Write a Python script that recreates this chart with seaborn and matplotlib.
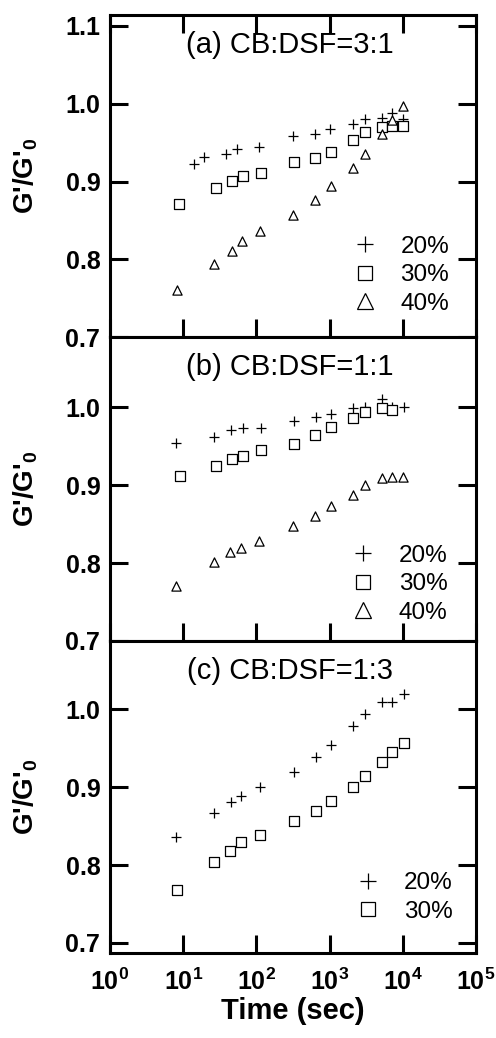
import numpy as np
import pandas as pd
import matplotlib
matplotlib.use("Agg")
import matplotlib.pyplot as plt
from matplotlib.lines import Line2D
from matplotlib.ticker import FixedLocator, FixedFormatter, NullLocator
import seaborn as sns

# ---- data: time (s) and normalised storage modulus G'/G'0 ----
panel_titles = ["(a) CB:DSF=3:1", "(b) CB:DSF=1:1", "(c) CB:DSF=1:3"]
series_labels = ["20%", "30%", "40%"]

t20a = [14, 19, 38, 55, 109, 317, 632, 1026, 2085, 3076, 5140, 7190, 10000]
g20a = [0.922, 0.932, 0.936, 0.942, 0.944, 0.959, 0.961, 0.968, 0.974, 0.981, 0.982, 0.988, 0.981]
t30a = [8.8, 27.9, 46, 65, 115, 324, 640, 1059, 2085, 3076, 5140, 7190, 10000]
g30a = [0.871, 0.892, 0.901, 0.907, 0.911, 0.925, 0.930, 0.938, 0.953, 0.964, 0.970, 0.972, 0.972]
t40a = [8.1, 26.2, 46, 64, 112, 321, 632, 1045, 2085, 3076, 5140, 7190, 10000]
g40a = [0.761, 0.794, 0.811, 0.824, 0.836, 0.857, 0.876, 0.894, 0.917, 0.936, 0.961, 0.979, 0.997]

t20b = [7.9, 26.2, 44.8, 64.6, 117, 324, 646, 1057, 2085, 3076, 5250, 7190, 10360]
g20b = [0.954, 0.962, 0.971, 0.974, 0.974, 0.982, 0.987, 0.992, 0.999, 1.001, 1.011, 1.000, 1.000]
t30b = [9.0, 27.9, 46, 65, 115, 324, 640, 1059, 2085, 3076, 5140, 7190]
g30b = [0.912, 0.924, 0.933, 0.938, 0.945, 0.953, 0.965, 0.975, 0.986, 0.994, 0.999, 0.996]
t40b = [7.9, 26.2, 43, 61, 109, 321, 632, 1045, 2085, 3076, 5140, 7190, 10000]
g40b = [0.771, 0.801, 0.814, 0.819, 0.828, 0.848, 0.860, 0.873, 0.888, 0.900, 0.909, 0.911, 0.911]

t20c = [7.9, 26.2, 44.4, 62, 113, 324, 646, 1045, 2085, 3076, 5250, 7190, 10360]
g20c = [0.836, 0.867, 0.881, 0.889, 0.900, 0.920, 0.939, 0.954, 0.979, 0.994, 1.010, 1.010, 1.020]
t30c = [8.1, 26.2, 43, 61, 111, 324, 646, 1059, 2085, 3076, 5140, 7190, 10360]
g30c = [0.768, 0.804, 0.818, 0.829, 0.838, 0.857, 0.870, 0.882, 0.900, 0.914, 0.932, 0.945, 0.957]

y_limits = [(0.7, 1.114), (0.7, 1.09), (0.687, 1.088)]
y_ticks = [[0.7, 0.8, 0.9, 1.0, 1.1], [0.7, 0.8, 0.9, 1.0], [0.7, 0.8, 0.9, 1.0]]
x_ticks = [1, 10, 100, 1000, 10000, 100000]
x_tick_labels = [r"$\mathbf{10^{%d}}$" % k for k in range(6)]

panels = [
    [(t20a, g20a), (t30a, g30a), (t40a, g40a)],
    [(t20b, g20b), (t30b, g30b), (t40b, g40b)],
    [(t20c, g20c), (t30c, g30c)],
]

# ---- style ----
sns.set_style("ticks")
plt.rcParams["font.family"] = ["Liberation Sans", "DejaVu Sans"]
plt.rcParams["mathtext.fontset"] = "custom"
plt.rcParams["mathtext.rm"] = "Liberation Sans"
plt.rcParams["mathtext.bf"] = "Liberation Sans:bold"
plt.rcParams["mathtext.it"] = "Liberation Sans:italic"
for key in ["text.color", "axes.labelcolor", "xtick.color", "ytick.color",
            "xtick.labelcolor", "ytick.labelcolor", "axes.edgecolor"]:
    plt.rcParams[key] = "black"

marker_styles = [
    dict(marker="+", s=56, color="black", linewidth=0.9),
    dict(marker="s", s=44, facecolor="white", edgecolor="black", linewidth=0.9),
    dict(marker="^", s=44, facecolor="white", edgecolor="black", linewidth=0.9),
]
legend_handles = [
    Line2D([], [], linestyle="none", marker="+", markersize=11, color="black", markeredgewidth=0.9),
    Line2D([], [], linestyle="none", marker="s", markersize=10.5, markerfacecolor="white",
           markeredgecolor="black", markeredgewidth=0.9),
    Line2D([], [], linestyle="none", marker="^", markersize=11, markerfacecolor="white",
           markeredgecolor="black", markeredgewidth=0.9),
]
legend_anchor = [(0.664, 0.1925), (0.659, 0.187), (0.673, 0.178)]

fig = plt.figure(figsize=(4.96, 10.38), dpi=100)
heights = [hi - lo for lo, hi in y_limits]
gs = fig.add_gridspec(3, 1, height_ratios=heights, hspace=0,
                      left=110 / 496, right=476 / 496, top=1 - 15 / 1038, bottom=1 - 953 / 1038)

for i, series in enumerate(panels):
    ax = fig.add_subplot(gs[i])
    for j, (t, g) in enumerate(series):
        df = pd.DataFrame({"time": t, "ratio": g})
        sns.scatterplot(data=df, x="time", y="ratio", ax=ax, zorder=3, legend=False,
                        **marker_styles[j])
    ax.set_xscale("log")
    ax.set_xlim(1, 1e5)
    ax.set_ylim(*y_limits[i])

    ax.xaxis.set_major_locator(FixedLocator(x_ticks))
    ax.xaxis.set_minor_locator(NullLocator())
    ax.yaxis.set_major_locator(FixedLocator(y_ticks[i]))
    ax.yaxis.set_major_formatter(FixedFormatter(["%.1f" % v for v in y_ticks[i]]))
    ax.yaxis.set_minor_locator(NullLocator())

    ax.tick_params(axis="both", which="major", direction="in", length=13, width=2.2, color="black")
    ax.tick_params(axis="y", left=True, right=True, labelsize=18, pad=7, labelcolor="black")
    for lab in ax.get_yticklabels():
        lab.set_fontweight("bold")
    ax.tick_params(axis="x", bottom=True, top=(i == 0), labelsize=18, pad=11, labelcolor="black")
    if i == 2:
        ax.xaxis.set_major_formatter(FixedFormatter(x_tick_labels))
        ax.set_xlabel("Time (sec)", fontsize=21, fontweight="bold", labelpad=2, color="black")
    else:
        ax.tick_params(axis="x", labelbottom=False)
        ax.set_xlabel("")

    for sp in ax.spines.values():
        sp.set_linewidth(2.2)
        sp.set_color("black")
        sp.set_visible(True)

    ax.set_ylabel(r"G'/G'$_{\mathbf{0}}$", fontsize=20, fontweight="bold", color="black")
    ax.yaxis.set_label_coords(-0.19, 0.5)

    ax.annotate(panel_titles[i], xy=(0.5, 1), xycoords="axes fraction",
                xytext=(-2, -27.5), textcoords="offset points",
                ha="center", va="baseline", fontsize=21, color="black")

    n = len(series)
    leg = ax.legend(legend_handles[:n], series_labels[:n], loc="center left",
                    bbox_to_anchor=legend_anchor[i], frameon=False, fontsize=17.5,
                    handlelength=1.0, handletextpad=0.95, borderpad=0, borderaxespad=0,
                    labelspacing=0.27)
    for txt in leg.get_texts():
        txt.set_color("black")

fig.savefig("out.png", dpi=100)
